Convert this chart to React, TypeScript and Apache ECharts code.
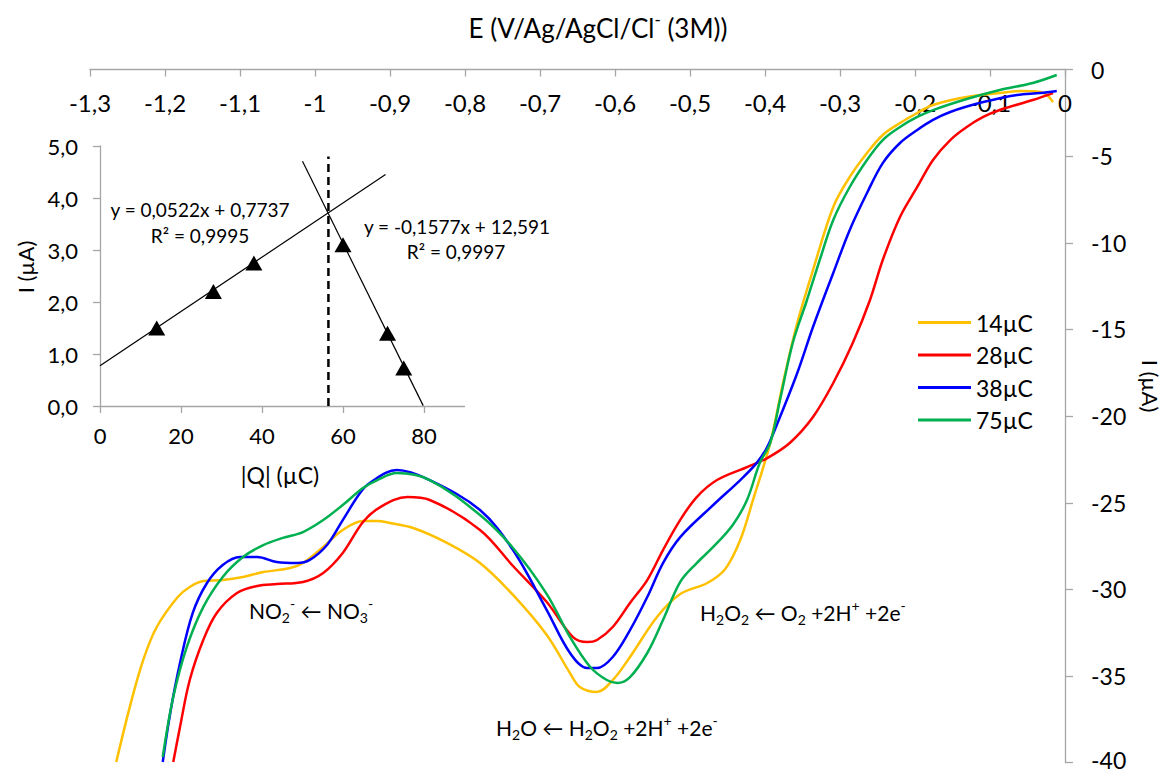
import React, { useEffect, useRef } from "react";
import * as echarts from "echarts";

// Main voltammograms: [E (V), I (µA)]
const curve14: [number, number][] = [
  [-1.265, -39.96], [-1.247, -36.79], [-1.229, -34.07], [-1.211, -32.17], [-1.183, -30.44],
  [-1.167, -29.86], [-1.149, -29.52], [-1.123, -29.46], [-1.096, -29.28], [-1.069, -29.0],
  [-1.033, -28.77], [-1.016, -28.48], [-0.989, -27.55], [-0.963, -26.57], [-0.936, -26.05],
  [-0.917, -26.05], [-0.9, -26.17], [-0.869, -26.46], [-0.824, -27.32], [-0.78, -28.48],
  [-0.736, -30.32], [-0.691, -32.63], [-0.66, -34.83], [-0.647, -35.63], [-0.624, -35.92],
  [-0.603, -35.23], [-0.58, -33.9], [-0.544, -31.59], [-0.513, -30.27], [-0.477, -29.63],
  [-0.453, -28.82], [-0.433, -27.15], [-0.416, -24.84], [-0.393, -21.55], [-0.376, -18.09],
  [-0.357, -14.63], [-0.336, -11.57], [-0.309, -7.93], [-0.287, -6.2], [-0.264, -4.82],
  [-0.243, -3.78], [-0.22, -3.09], [-0.197, -2.51], [-0.176, -2.05], [-0.131, -1.59],
  [-0.087, -1.36], [-0.06, -1.24], [-0.033, -1.3], [-0.024, -1.47], [-0.016, -1.88],
];
const curve28: [number, number][] = [
  [-1.189, -39.96], [-1.18, -37.94], [-1.167, -35.23], [-1.149, -32.92], [-1.131, -31.36],
  [-1.104, -30.21], [-1.077, -29.8], [-1.051, -29.69], [-1.016, -29.57], [-0.989, -29.05],
  [-0.963, -27.9], [-0.936, -26.11], [-0.913, -25.25], [-0.877, -24.67], [-0.847, -24.84],
  [-0.78, -26.57], [-0.736, -28.65], [-0.691, -30.73], [-0.656, -32.75], [-0.637, -33.04],
  [-0.624, -32.92], [-0.603, -32.17], [-0.58, -30.78], [-0.557, -29.46], [-0.536, -27.73],
  [-0.513, -25.99], [-0.491, -24.67], [-0.464, -23.69], [-0.424, -22.94], [-0.397, -22.42],
  [-0.367, -21.55], [-0.336, -20.05], [-0.309, -18.09], [-0.283, -15.78], [-0.26, -13.3],
  [-0.243, -10.99], [-0.22, -8.51], [-0.197, -6.78], [-0.176, -5.22], [-0.153, -4.07],
  [-0.131, -3.32], [-0.109, -2.74], [-0.087, -2.34], [-0.043, -1.76], [-0.016, -1.36],
];
const curve38: [number, number][] = [
  [-1.203, -39.96], [-1.193, -37.13], [-1.18, -34.25], [-1.163, -31.36], [-1.144, -29.63],
  [-1.123, -28.59], [-1.1, -28.13], [-1.077, -28.13], [-1.051, -28.42], [-1.024, -28.48],
  [-1.007, -28.3], [-0.984, -27.44], [-0.963, -26.0], [-0.94, -24.44], [-0.927, -23.86],
  [-0.891, -23.11], [-0.847, -23.69], [-0.78, -25.42], [-0.736, -27.73], [-0.691, -31.19],
  [-0.66, -33.67], [-0.637, -34.54], [-0.624, -34.54], [-0.603, -33.9], [-0.58, -32.35],
  [-0.557, -30.44], [-0.536, -28.48], [-0.513, -26.98], [-0.469, -25.13], [-0.433, -23.69],
  [-0.411, -22.7], [-0.397, -21.78], [-0.38, -20.05], [-0.357, -17.51], [-0.336, -14.86],
  [-0.309, -11.74], [-0.287, -9.26], [-0.264, -7.13], [-0.243, -5.4], [-0.22, -4.24],
  [-0.197, -3.49], [-0.176, -2.91], [-0.153, -2.45], [-0.109, -1.88], [-0.064, -1.47],
  [-0.033, -1.36], [-0.011, -1.24],
];
const curve75: [number, number][] = [
  [-1.203, -39.67], [-1.189, -36.21], [-1.171, -33.33], [-1.149, -31.02], [-1.123, -29.28],
  [-1.096, -28.13], [-1.069, -27.44], [-1.043, -27.03], [-1.016, -26.69], [-0.989, -26.0],
  [-0.963, -25.13], [-0.936, -24.15], [-0.917, -23.69], [-0.891, -23.29], [-0.847, -23.69],
  [-0.78, -25.71], [-0.736, -27.61], [-0.691, -30.27], [-0.66, -32.75], [-0.633, -34.48],
  [-0.611, -35.23], [-0.597, -35.4], [-0.58, -35.06], [-0.557, -33.67], [-0.536, -31.77],
  [-0.513, -29.57], [-0.491, -28.48], [-0.469, -27.55], [-0.443, -26.28], [-0.424, -24.84],
  [-0.407, -22.71], [-0.393, -21.55], [-0.38, -19.07], [-0.363, -15.78], [-0.344, -13.3],
  [-0.327, -10.99], [-0.309, -8.68], [-0.287, -6.78], [-0.264, -5.22], [-0.243, -4.07],
  [-0.22, -3.32], [-0.197, -2.74], [-0.176, -2.34], [-0.131, -1.7], [-0.087, -1.18],
  [-0.043, -0.78], [-0.011, -0.32],
];
const seriesNames = ["14µC", "28µC", "38µC", "75µC"];
const seriesColors = ["#FFC000", "#FF0000", "#0000FF", "#00B050"];

// Inset: peak current vs charge
const insetCharge = [14, 28, 38, 60, 71, 75];
const insetCurrent = [1.5, 2.2, 2.75, 3.1, 1.4, 0.73];
const fitRising: [number, number][] = [[0, 0.774], [70.5, 4.454]];
const fitFalling: [number, number][] = [[50, 4.706], [79.8, 0.007]];
const crossLine: [number, number][] = [[56.4, 0], [56.4, 4.8]];
const insetXTicks = [0, 20, 40, 60, 80];

const FONT = "Lato, 'Open Sans', sans-serif";

const rich = (size: number, lh: number) => ({
  n: { fontSize: size, fontFamily: FONT, color: "#000", lineHeight: lh },
  sub: { fontSize: Math.round(size * 0.65), fontFamily: FONT, color: "#000", lineHeight: Math.round(lh * 0.55), verticalAlign: "bottom" },
  sup: { fontSize: Math.round(size * 0.65), fontFamily: FONT, color: "#000", lineHeight: Math.round(lh * 0.55), verticalAlign: "top" },
});

export default function App() {
  const ref = useRef<HTMLDivElement>(null);
  useEffect(() => {
    document.body.style.margin = "0";
    const chart = echarts.init(ref.current!, undefined, { renderer: "svg" });
    const axisGray = "#A6A6A6";
    const curves = [curve14, curve28, curve38, curve75];
    const txt = (x: number, y: number, text: string, size: number, extra: any = {}) => ({
      type: "text", x, y, ...extra,
      style: { text, fontSize: size, fontFamily: FONT, fill: "#000", align: "center", verticalAlign: "middle" },
    });
    const option: any = {
      animation: false,
      backgroundColor: "#fff",
      textStyle: { fontFamily: FONT },
      grid: [
        { left: 90, right: 106, top: 69.5, bottom: 8.3, outerBoundsMode: "none", containLabel: false },
        { left: 100, top: 146, width: 364.5, height: 260, outerBoundsMode: "none", containLabel: false },
      ],
      legend: {
        data: seriesNames,
        orient: "vertical",
        left: 913,
        top: 305.5,
        icon: "rect",
        itemWidth: 53,
        itemHeight: 3,
        itemGap: 8.5,
        textStyle: { fontSize: 23, fontFamily: FONT, color: "#000", lineHeight: 24 },
      },
      xAxis: [
        {
          type: "value", gridIndex: 0, position: "top", min: -1.3, max: 0, interval: 0.1,
          axisLine: { show: true, onZero: false, lineStyle: { color: axisGray, width: 1.3 } },
          axisTick: { show: true, inside: true, length: 7, lineStyle: { color: axisGray, width: 1.3 } },
          axisLabel: {
            inside: true, margin: 21, fontSize: 24, color: "#000", fontFamily: FONT,
            showMinLabel: true, showMaxLabel: true,
            formatter: (v: number) => { const r = Math.round(v * 10) / 10; return r === 0 ? "0" : String(r).replace(".", ","); },
          },
          splitLine: { show: false },
        },
        {
          type: "value", gridIndex: 1, min: 0, max: 90,
          axisLine: { show: true, onZero: false, lineStyle: { color: axisGray, width: 1.3 } },
          axisTick: { show: true, length: 7, customValues: insetXTicks, lineStyle: { color: axisGray, width: 1.3 } },
          axisLabel: { margin: 18, fontSize: 22, color: "#000", fontFamily: FONT, customValues: insetXTicks },
          splitLine: { show: false },
        },
      ],
      yAxis: [
        {
          type: "value", gridIndex: 0, position: "right", min: -40, max: 0, interval: 5,
          axisLine: { show: true, onZero: false, lineStyle: { color: axisGray, width: 1.3 } },
          axisTick: { show: true, length: 8, lineStyle: { color: axisGray, width: 1.3 } },
          axisLabel: {
            margin: 26, fontSize: 23, lineHeight: 16, color: "#000", fontFamily: FONT, align: "left",
            formatter: (v: number) => (v === -40 ? "{b|-40}" : String(v)),
            rich: { b: { fontSize: 23, fontFamily: FONT, color: "#000", lineHeight: 16, padding: [0, 0, 6, 0] } },
          },
          splitLine: { show: false },
        },
        {
          type: "value", gridIndex: 1, min: 0, max: 5, interval: 1,
          axisLine: { show: true, onZero: false, lineStyle: { color: axisGray, width: 1.3 } },
          axisTick: { show: true, length: 7, lineStyle: { color: axisGray, width: 1.3 } },
          axisLabel: { margin: 22, fontSize: 22, color: "#000", fontFamily: FONT, formatter: (v: number) => v.toFixed(1).replace(".", ",") },
          splitLine: { show: false },
        },
      ],
      series: [
        ...curves.map((c, i) => ({
          name: seriesNames[i], type: "line", xAxisIndex: 0, yAxisIndex: 0,
          data: c, showSymbol: false, symbol: "none", smooth: 0.35,
          lineStyle: { color: seriesColors[i], width: 2.5 }, itemStyle: { color: seriesColors[i] },
        })),
        {
          type: "line", xAxisIndex: 1, yAxisIndex: 1, data: fitRising, symbol: "none",
          lineStyle: { color: "#000", width: 1.2 }, silent: true,
        },
        {
          type: "line", xAxisIndex: 1, yAxisIndex: 1, data: fitFalling, symbol: "none",
          lineStyle: { color: "#000", width: 1.2 }, silent: true,
        },
        {
          type: "line", xAxisIndex: 1, yAxisIndex: 1, data: crossLine, symbol: "none",
          lineStyle: { color: "#000", width: 2.5, type: [8, 5] }, silent: true,
        },
        {
          type: "scatter", xAxisIndex: 1, yAxisIndex: 1,
          data: insetCharge.map((q, i) => [q, insetCurrent[i]]),
          symbol: "triangle", symbolSize: [17, 15], itemStyle: { color: "#000", opacity: 1 },
        },
      ],
      graphic: [
        { type: "text", x: 598, y: 28, style: { text: "{n|E (V/Ag/AgCl/Cl}{sup|-}{n| (3M))}", rich: rich(26, 34), align: "center", verticalAlign: "middle" } },
        txt(1150, 386, "I (µA)", 22, { rotation: -Math.PI / 2 }),
        txt(25, 267, "I (µA)", 22, { rotation: Math.PI / 2 }),
        txt(280, 475, "|Q| (µC)", 23),
        txt(200, 209, "y = 0,0522x + 0,7737", 19),
        txt(200, 235, "R² = 0,9995", 19),
        txt(457, 226, "y = -0,1577x + 12,591", 19),
        txt(456, 251, "R² = 0,9997", 19),
        { type: "text", x: 249, y: 610, style: { text: "{n|NO}{sub|2}{sup|-}{n| ← NO}{sub|3}{sup|-}", rich: rich(21, 28), align: "left", verticalAlign: "middle" } },
        { type: "text", x: 496, y: 727, style: { text: "{n|H}{sub|2}{n|O ← H}{sub|2}{n|O}{sub|2}{n| +2H}{sup|+}{n| +2e}{sup|-}", rich: rich(21, 28), align: "left", verticalAlign: "middle" } },
        { type: "text", x: 700, y: 612, style: { text: "{n|H}{sub|2}{n|O}{sub|2}{n| ← O}{sub|2}{n| +2H}{sup|+}{n| +2e}{sup|-}", rich: rich(21, 28), align: "left", verticalAlign: "middle" } },
      ],
    };
    chart.setOption(option);
    return () => chart.dispose();
  }, []);
  return <div ref={ref} style={{ position: "absolute", left: 0, top: 0, width: 1171, height: 771 }} />;
}
